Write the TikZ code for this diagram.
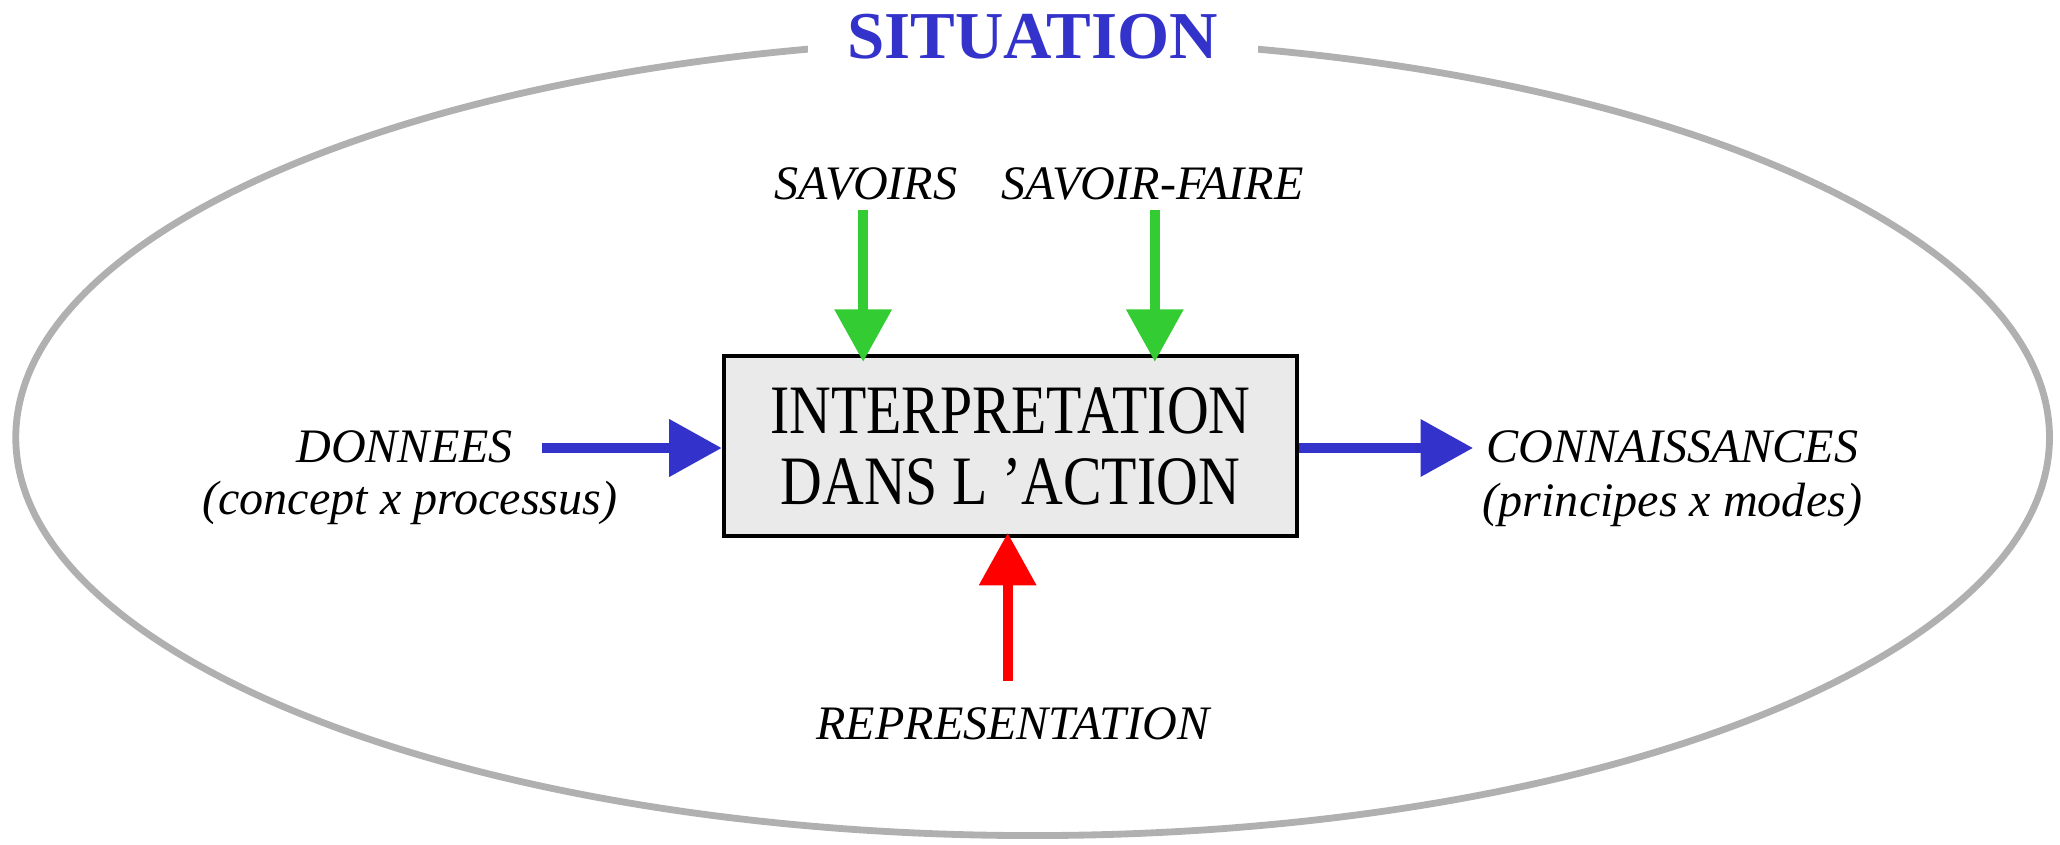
\documentclass[tikz,border=0pt]{standalone}
\usepackage{fontspec}
\setmainfont{Liberation Serif}
\usetikzlibrary{arrows.meta}
\definecolor{sitblue}{HTML}{3333CC}
\definecolor{sitgreen}{HTML}{33CC33}
\definecolor{sitred}{HTML}{FF0000}
\definecolor{sitgray}{HTML}{B0B0B0}
\definecolor{boxfill}{HTML}{EAEAEA}
\begin{document}
\begin{tikzpicture}[x=0.5pt,y=-0.5pt,
  lab/.style={font=\fontsize{18.3}{21.5}\selectfont\itshape, inner sep=0pt},
  fatarrow/.style={line width=3.7pt, -{Triangle[length=20pt,width=21pt]}},
  bluearrow/.style={fatarrow, draw=sitblue, fill=sitblue},
  greenarrow/.style={fatarrow, draw=sitgreen, fill=sitgreen},
  redarrow/.style={fatarrow, draw=sitred, fill=sitred},
  mainbox/.style={draw=black, line width=1.6pt, fill=boxfill, minimum width=218pt, minimum height=68.5pt, inner sep=0pt, align=center}
]
\useasboundingbox (0,0) rectangle (1568,643);
\draw[sitgray, line width=2.6pt] (786,333) ellipse [x radius=387pt, y radius=151.5pt];
\node[fill=white, inner xsep=15pt, inner ysep=4pt, text=sitblue, font=\fontsize{25.5}{30}\selectfont\bfseries] (sit) at (786,28) {SITUATION};

\node[mainbox] (box) at (769,339.5) {\raisebox{-3.5pt}[\dimexpr\height+3.5pt][\dimexpr\depth+3.5pt]{\scalebox{1}[1.2]{\fontsize{22}{22.5}\selectfont\begin{tabular}{@{}c@{}}INTERPRETATION\\DANS L 'ACTION\end{tabular}}}};

\node[lab] (sav) at (659,140) {SAVOIRS};
\node[lab] (savf) at (877,140) {SAVOIR-FAIRE};
\node[lab] (don) at (308,340) {DONNEES};
\node[lab] (don2) at (312,383) {(concept x processus)};
\node[lab] (con) at (1273,340) {CONNAISSANCES};
\node[lab] (con2) at (1273,384) {(principes x modes)};
\node[lab] (rep) at (771,551) {REPRESENTATION};

\draw[greenarrow] ([xshift=-1pt,yshift=-3.5pt]sav.south) -- ([xshift=-1pt,yshift=-3pt]sav.south |- box.north);
\draw[greenarrow] ([xshift=1pt,yshift=-3.5pt]savf.south) -- ([xshift=1pt,yshift=-3pt]savf.south |- box.north);
\draw[bluearrow] ([xshift=11pt,yshift=-0.5pt]don.east) -- ([yshift=-0.5pt]box.west |- don.east);
\draw[bluearrow] ([yshift=-0.5pt]box.east |- con.west) -- ([xshift=-5pt,yshift=-0.5pt]con.west);
\draw[redarrow] ([xshift=-2pt,yshift=10pt]rep.north) -- ([xshift=-2pt,yshift=2pt]rep.north |- box.south);
\end{tikzpicture}
\end{document}
